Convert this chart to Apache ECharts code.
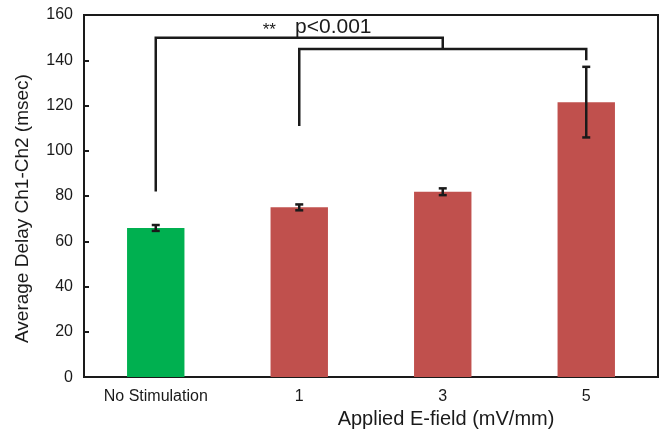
<!DOCTYPE html>
<html>
<head>
<meta charset="utf-8">
<script src="https://cdn.jsdelivr.net/npm/echarts@6/dist/echarts.min.js"></script>
<style>
  html, body { margin: 0; padding: 0; background: #fff; }
  #container_01 { width: 663px; height: 434px; }
</style>
</head>
<body>
<div id="container_01"></div>
<script>
// data
const categories = ['No Stimulation', '1', '3', '5'];
const delayMean = [65.9, 75.0, 81.9, 121.5];
const delayErr = [1.3, 1.3, 1.5, 15.6];
const barColors = ['#00b050', '#c0504d', '#c0504d', '#c0504d'];

// significance brackets: from category -> to category at a level
const bracketFrom = [0, 1];
const bracketTo = [2, 3];
const bracketLevel = [150, 145];
const legFromBottom = [82, 111];
const legToBottom = [145, 140];
const noteStars = '**';
const noteText = 'p<0.001';
const noteValue = 154.7;

const yTicks = { min: 0, max: 160, interval: 20 };

const fontFam = 'Liberation Sans, Arial, sans-serif';
const ink = '#1a1a1a';

var chartDom = document.getElementById('container_01');
var myChart = echarts.init(chartDom, null, { renderer: 'canvas' });
var option;

let barData = delayMean.map(function (v, i) {
    return { value: v, itemStyle: { color: barColors[i] } };
});
let errData = delayMean.map(function (v, i) {
    return [i, v - delayErr[i], v + delayErr[i]];
});
let bracketData = bracketFrom.map(function (f, i) {
    return [f, bracketTo[i], bracketLevel[i], legFromBottom[i], legToBottom[i]];
});

option = {
    animation: false,
    grid: {
        left: 84,
        right: 5,
        top: 15,
        bottom: 56,
        show: true,
        borderColor: ink,
        borderWidth: 2
    },
    xAxis: {
        type: 'category',
        data: categories,
        name: 'Applied E-field (mV/mm)',
        nameLocation: 'middle',
        nameGap: 31,
        nameTextStyle: {
            fontFamily: fontFam,
            fontSize: 20,
            color: ink,
            padding: [0, 0, 0, 150]
        },
        axisLine: { lineStyle: { color: ink, width: 2 } },
        axisTick: { inside: true, length: 5, lineStyle: { color: ink, width: 2 } },
        axisLabel: { fontFamily: fontFam, fontSize: 16, color: ink, margin: 11 }
    },
    yAxis: {
        type: 'value',
        min: yTicks.min,
        max: yTicks.max,
        interval: yTicks.interval,
        name: 'Average Delay Ch1-Ch2 (msec)',
        nameLocation: 'middle',
        nameGap: 52,
        nameTextStyle: {
            fontFamily: fontFam,
            fontSize: 19,
            color: ink,
            padding: [0, 25, 0, 0]
        },
        splitLine: { show: false },
        axisLine: { show: true, lineStyle: { color: ink, width: 2 } },
        axisTick: { show: true, inside: true, length: 5, lineStyle: { color: ink, width: 2 } },
        axisLabel: { fontFamily: fontFam, fontSize: 16, color: ink, margin: 11 }
    },
    series: [
        {
            name: 'Delay',
            type: 'bar',
            barWidth: '40%',
            data: barData
        },
        {
            name: 'Error',
            type: 'custom',
            z: 5,
            data: errData,
            renderItem: function (params, api) {
                let lo = api.coord([api.value(0), api.value(1)]);
                let hi = api.coord([api.value(0), api.value(2)]);
                let half = 4;
                let st = { stroke: ink, lineWidth: 2.5 };
                return {
                    type: 'group',
                    children: [
                        { type: 'line', shape: { x1: lo[0], y1: lo[1], x2: hi[0], y2: hi[1] }, style: st },
                        { type: 'line', shape: { x1: lo[0] - half, y1: lo[1], x2: lo[0] + half, y2: lo[1] }, style: st },
                        { type: 'line', shape: { x1: hi[0] - half, y1: hi[1], x2: hi[0] + half, y2: hi[1] }, style: st }
                    ]
                };
            }
        },
        {
            name: 'Brackets',
            type: 'custom',
            z: 6,
            clip: false,
            data: bracketData,
            renderItem: function (params, api) {
                let a0 = api.coord([api.value(0), api.value(3)]);
                let a1 = api.coord([api.value(0), api.value(2)]);
                let b1 = api.coord([api.value(1), api.value(2)]);
                let b0 = api.coord([api.value(1), api.value(4)]);
                let kids = [{
                    type: 'polyline',
                    shape: { points: [a0, a1, b1, b0] },
                    style: { stroke: ink, lineWidth: 2.5, fill: null }
                }];
                if (params.dataIndex === 0) {
                    let mid = (a1[0] + b1[0]) / 2;
                    let ny = api.coord([0, noteValue])[1];
                    kids.push({
                        type: 'text',
                        x: mid - 30,
                        y: ny + 3,
                        style: {
                            text: noteStars,
                            fontFamily: fontFam,
                            fontSize: 17,
                            fill: ink,
                            align: 'center',
                            verticalAlign: 'middle'
                        }
                    });
                    kids.push({
                        type: 'text',
                        x: mid + 34,
                        y: ny,
                        style: {
                            text: noteText,
                            fontFamily: fontFam,
                            fontSize: 21,
                            fill: ink,
                            align: 'center',
                            verticalAlign: 'middle'
                        }
                    });
                }
                return { type: 'group', children: kids };
            }
        }
    ]
};

option && myChart.setOption(option);
window.addEventListener('resize', function () {
    myChart.resize();
});
</script>
</body>
</html>
